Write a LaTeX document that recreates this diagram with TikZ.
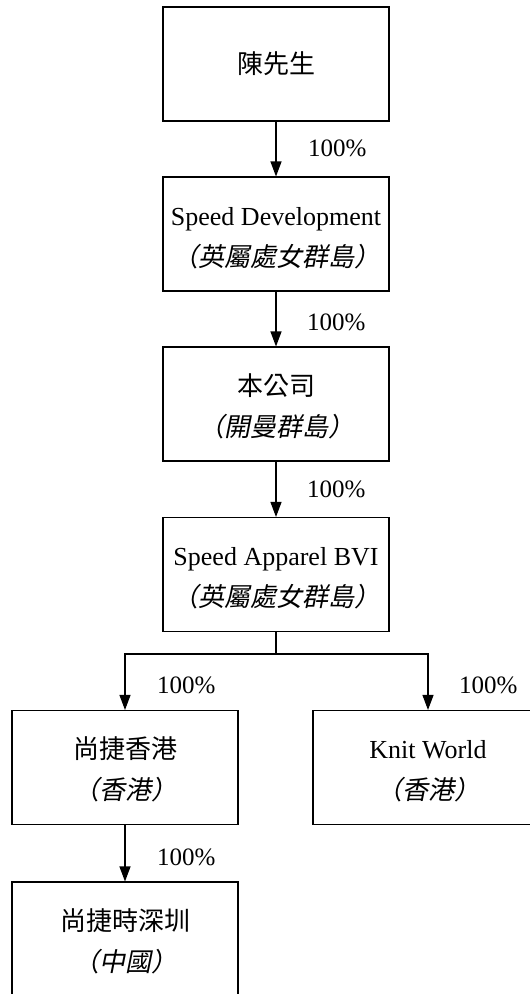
\documentclass[tikz,border=0pt]{standalone}
\usepackage{fontspec}
\setmainfont{Liberation Serif}
\newfontfamily\cjk{Noto Sans CJK TC}
\newfontfamily\cjkit[FakeSlant=0.2,RawFeature=+halt]{Noto Sans CJK TC}
\usetikzlibrary{arrows.meta}
\begin{document}
\begin{tikzpicture}[x=1pt,y=-1pt,
  box/.style={draw, line width=1.1pt, minimum width=226pt, minimum height=114pt,
    align=center, font=\fontsize{26}{41}\selectfont, inner sep=0pt},
  twoline/.style={text height=66pt, text depth=2pt},
  conn/.style={line width=1.1pt},
  arr/.style={conn, -{Triangle[width=11pt,length=15pt]}},
  pct/.style={anchor=west, font=\fontsize{25}{25}\selectfont, inner sep=0pt}]
\useasboundingbox (0,0) rectangle (530,994);
\node[box] (chen) at (276,64) {\cjk 陳先生};
\node[box, twoline] (sd) at (276,234) {Speed Development\\{\cjkit （英屬處女群島）}};
\node[box, twoline] (co) at (276,404) {{\cjk 本公司}\\{\cjkit （開曼群島）}};
\node[box, twoline] (sa) at (276,574.5) {Speed Apparel BVI\\{\cjkit （英屬處女群島）}};
\node[box, twoline] (hk) at (125,767.5) {{\cjk 尚捷香港}\\{\cjkit （香港）}};
\node[box, twoline, minimum width=230pt] (kw) at (428,767.5) {Knit World\\{\cjkit （香港）}};
\node[box, twoline] (sz) at (125,939) {{\cjk 尚捷時深圳}\\{\cjkit （中國）}};
\coordinate (br) at (276,654);
\draw[arr] (chen) -- (sd);
\draw[arr] (sd) -- (co);
\draw[arr] (co) -- (sa);
\draw[conn] (sa) -- (br);
\draw[arr] (br) -| (hk.north);
\draw[arr] (br) -| (kw.north);
\draw[arr] (hk) -- (sz);
\node[pct] (p1) at (308,148) {100\%};
\node[pct] (p2) at (307,322) {100\%};
\node[pct] (p3) at (307,489) {100\%};
\node[pct] (p4) at (157,685) {100\%};
\node[pct] (p5) at (459,685) {100\%};
\node[pct] (p6) at (157,857) {100\%};
\end{tikzpicture}
\end{document}
